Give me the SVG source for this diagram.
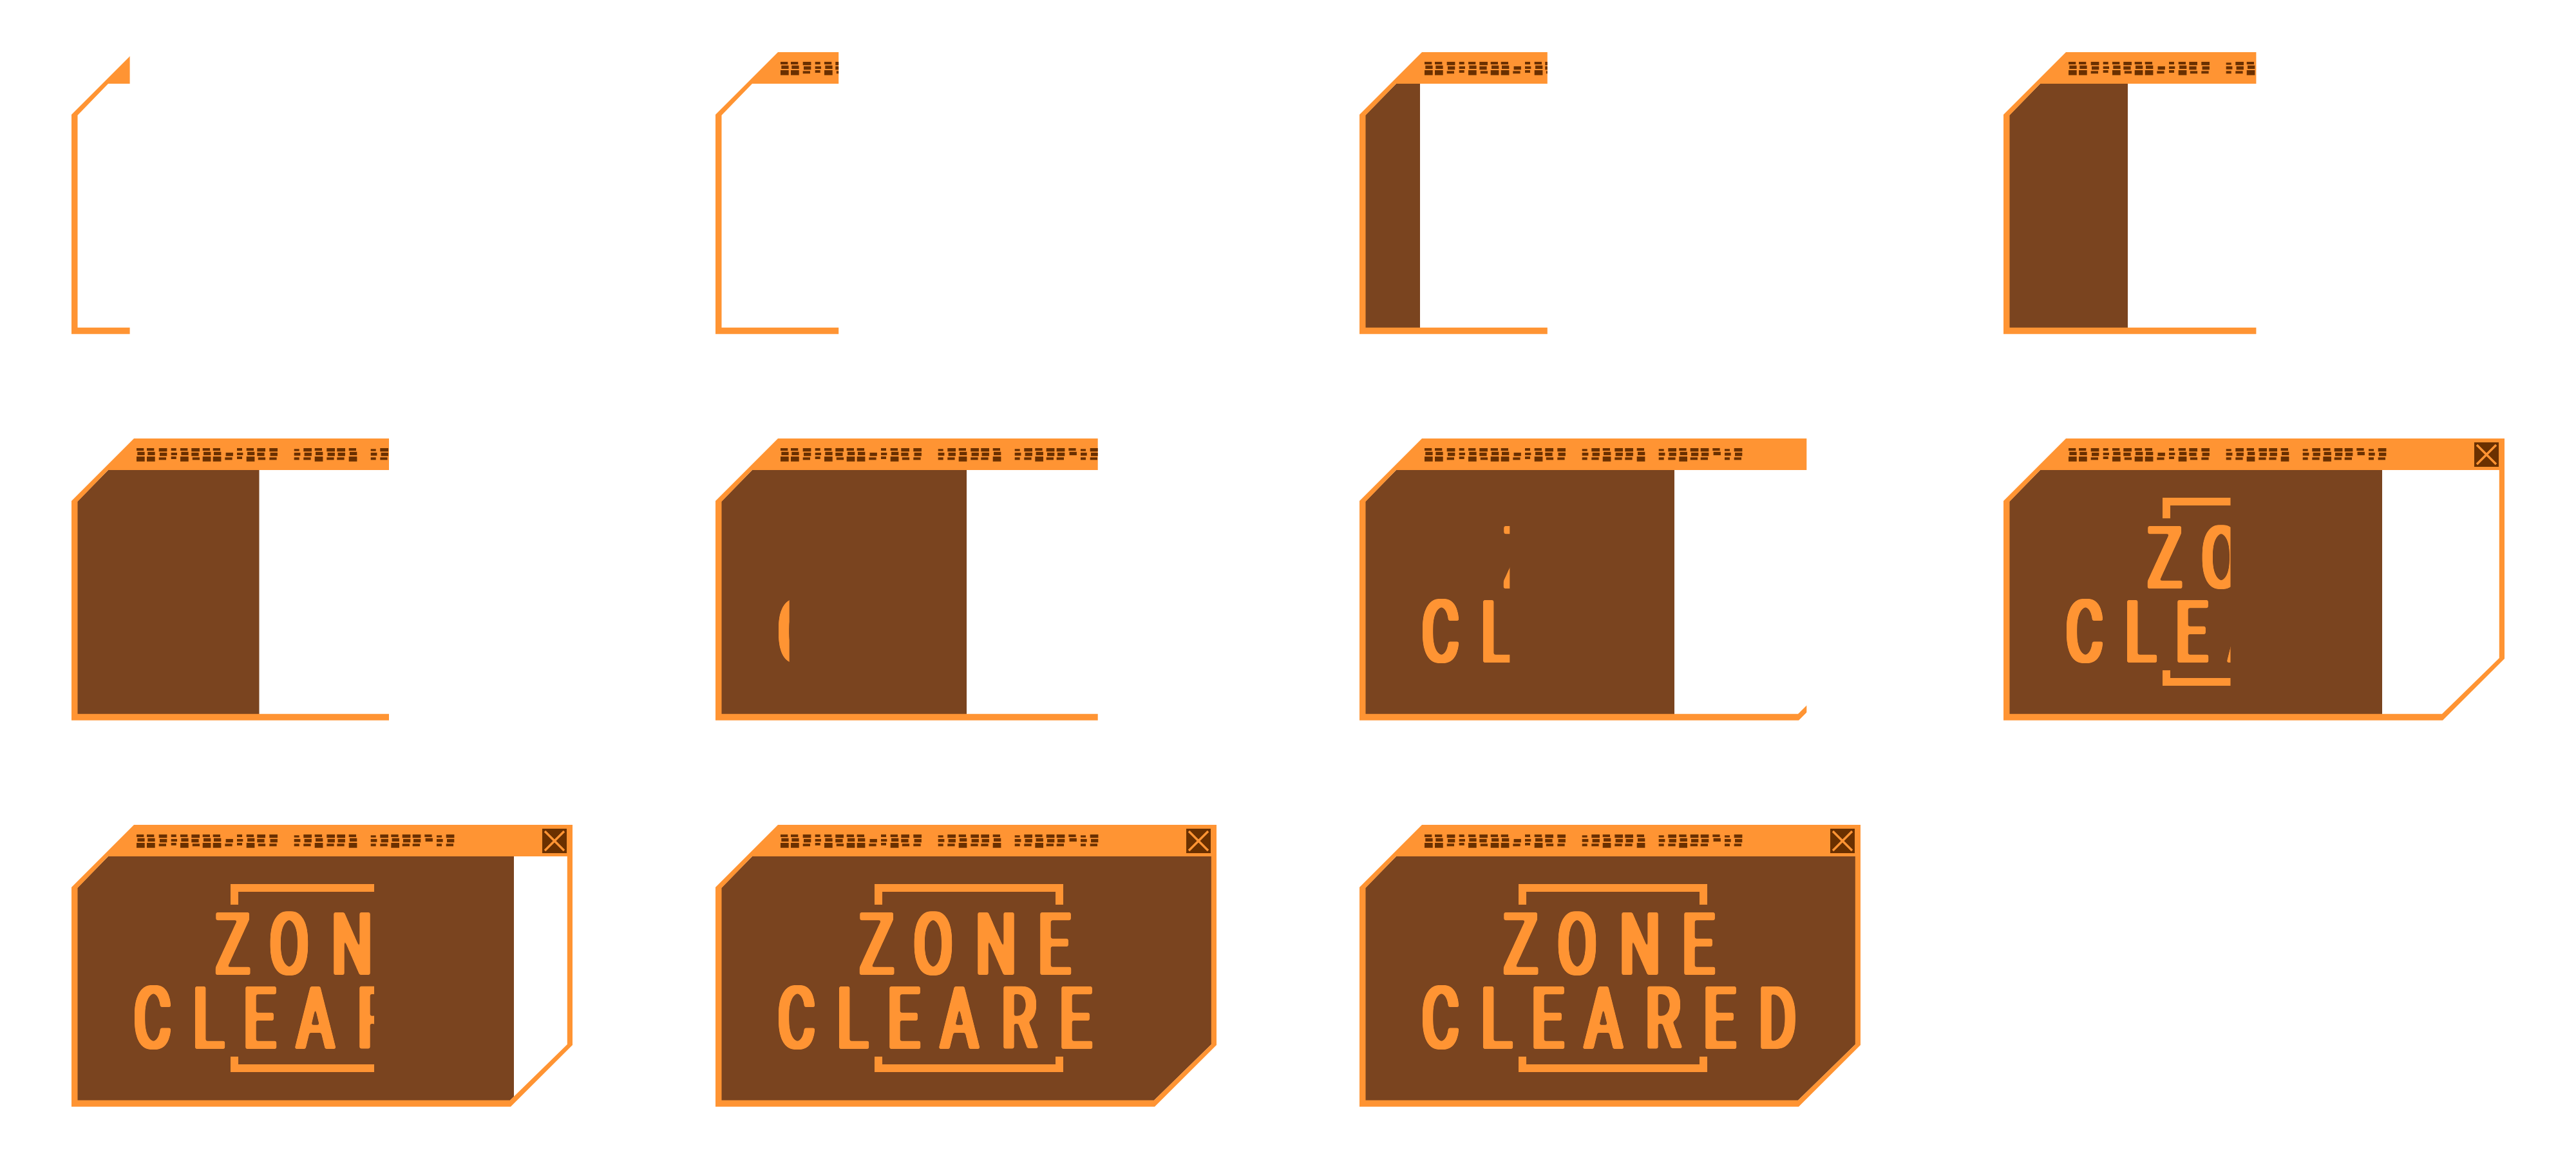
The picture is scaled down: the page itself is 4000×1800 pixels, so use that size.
<svg xmlns="http://www.w3.org/2000/svg" xmlns:xlink="http://www.w3.org/1999/xlink" width="4000" height="1800" viewBox="0 0 4000 1800">
<style>
.or{fill:#ff9433}
.pl{fill:#7a441f}
.dk{fill:#6a3000}
.xx{stroke:#ff9433;stroke-width:3.5;fill:none}
text{font-family:"Roboto","Liberation Sans",sans-serif;font-size:134px;font-weight:400;fill:#ff9433}
</style>
<defs>
<filter id="heavy" filterUnits="userSpaceOnUse" x="0" y="80" width="778" height="320" color-interpolation-filters="sRGB">
<feMorphology operator="dilate" radius="4 .5"/>
<feGaussianBlur stdDeviation="1.5"/>
<feComponentTransfer result="a"><feFuncA type="linear" slope="5" intercept="-2"/></feComponentTransfer>
<feFlood flood-color="#ff9433"/>
<feComposite in2="a" operator="in"/>
</filter>
<clipPath id="o1"><rect x="-5" y="-5" width="95.6" height="450"/></clipPath>
<clipPath id="o2"><rect x="-5" y="-5" width="196.2" height="450"/></clipPath>
<clipPath id="o3"><rect x="-5" y="-5" width="296.8" height="450"/></clipPath>
<clipPath id="o4"><rect x="-5" y="-5" width="397.4" height="450"/></clipPath>
<clipPath id="o5"><rect x="-5" y="-5" width="498" height="450"/></clipPath>
<clipPath id="o6"><rect x="-5" y="-5" width="598.7" height="450"/></clipPath>
<clipPath id="o7"><rect x="-5" y="-5" width="699.3" height="450"/></clipPath>
<clipPath id="f3"><rect x="-5" y="-5" width="99" height="450"/></clipPath>
<clipPath id="f4"><rect x="-5" y="-5" width="198" height="450"/></clipPath>
<clipPath id="f5"><rect x="-5" y="-5" width="296.5" height="450"/></clipPath>
<clipPath id="f6"><rect x="-5" y="-5" width="395" height="450"/></clipPath>
<clipPath id="f7"><rect x="-5" y="-5" width="494" height="450"/></clipPath>
<clipPath id="f8"><rect x="-5" y="-5" width="593" height="450"/></clipPath>
<clipPath id="f9"><rect x="-5" y="-5" width="692" height="450"/></clipPath>
<clipPath id="t6"><rect x="0" y="0" width="114.7" height="437"/></clipPath>
<clipPath id="t7"><rect x="0" y="0" width="233.3" height="437"/></clipPath>
<clipPath id="t8"><rect x="0" y="0" width="352.5" height="437"/></clipPath>
<clipPath id="t9"><rect x="0" y="0" width="470" height="437"/></clipPath>
<clipPath id="t10"><rect x="0" y="0" width="588.5" height="437"/></clipPath>
<g id="gA" class="dk"><rect width="11.3" height="4"/><rect x="1.3" y="5.7" width="11.3" height="5.3"/><rect y="13" width="12.7" height="7.7"/></g>
<g id="gB" class="dk"><rect width="12.7" height="5.3"/><rect x="1.3" y="7" width="11.3" height="5.3"/><rect y="14.3" width="11.3" height="4"/></g>
<g id="gC" class="dk"><rect width="12.7" height="5.3"/><rect y="7" width="11.3" height="5.3"/><rect x="1.5" y="14.3" width="11.3" height="4"/></g>
<g id="gS" class="dk"><rect width="8" height="4"/><rect y="7" width="9.3" height="4"/><rect y="13" width="8" height="4"/></g>
<g id="gR" class="dk"><rect y="1.3" width="8" height="3.3"/><rect y="7" width="9.7" height="4.7"/><rect y="14.3" width="8" height="4"/></g>
<g id="gT" class="dk"><rect x="1.3" y="7" width="11.3" height="5.3"/><rect y="14.3" width="11.3" height="4"/></g>
<g id="gU" class="dk"><rect width="11.3" height="4"/><rect x="1.3" y="5.7" width="11.3" height="5.3"/></g>
<g id="frame">
<path class="or" fill-rule="evenodd" d="M97 0H778V342L682 437.7H0V97ZM57 49L9.5 98V427.8H681L769.8 341V49Z"/>
<g transform="translate(0 15)">
<use href="#gA" x="101"/><use href="#gA" x="117"/><use href="#gB" x="135.7"/><use href="#gS" x="154.7"/><use href="#gA" x="169"/><use href="#gC" x="186.3"/><use href="#gA" x="203.7"/><use href="#gA" x="219.7"/><use href="#gT" x="238.3"/><use href="#gS" x="257"/><use href="#gA" x="271.7"/><use href="#gC" x="288.3"/><use href="#gB" x="307.3"/>
<use href="#gR" x="345.7"/><use href="#gB" x="360.3"/><use href="#gA" x="377.7"/><use href="#gB" x="396.3"/><use href="#gB" x="412.3"/><use href="#gA" x="430.7"/>
<use href="#gR" x="464.7"/><use href="#gB" x="479.3"/><use href="#gA" x="496.3"/><use href="#gB" x="513.7"/><use href="#gB" x="529.7"/><use href="#gU" x="548.3"/><use href="#gR" x="567"/><use href="#gB" x="581.7"/>
</g>
<rect class="dk" x="731" y="6" width="38" height="38"/>
<path class="xx" d="M735 10L765 40M765 10L735 40"/>
</g>
<path id="plate" class="pl" d="M57 49L9 98V428H681L770 341V49Z"/>
<path id="brackets" class="or" d="M247 92H540V124H528V104H259V124H247ZM247 360H259V372H528V360H540V384H247Z"/>
</defs>
<rect width="4000" height="1800" fill="#fff"/>
<g id="frame-1" transform="translate(111 81)"><use href="#frame" clip-path="url(#o1)"/></g>
<g id="frame-2" transform="translate(1111 81)"><use href="#frame" clip-path="url(#o2)"/></g>
<g id="frame-3" transform="translate(2111 81)"><use href="#plate" clip-path="url(#f3)"/><use href="#frame" clip-path="url(#o3)"/></g>
<g id="frame-4" transform="translate(3111 81)"><use href="#plate" clip-path="url(#f4)"/><use href="#frame" clip-path="url(#o4)"/></g>
<g id="frame-5" transform="translate(111 681)"><use href="#plate" clip-path="url(#f5)"/><use href="#frame" clip-path="url(#o5)"/></g>
<g id="frame-6" transform="translate(1111 681)"><use href="#plate" clip-path="url(#f6)"/><use href="#frame" clip-path="url(#o6)"/>
<g clip-path="url(#t6)"><g filter="url(#heavy)"><g transform="scale(.66 1)"><text x="146.5" y="347.5">C</text></g></g></g></g>
<g id="frame-7" transform="translate(2111 681)"><use href="#plate" clip-path="url(#f7)"/><use href="#frame" clip-path="url(#o7)"/>
<g clip-path="url(#t7)"><g filter="url(#heavy)"><g transform="scale(.66 1)"><text x="339.4" y="232.5">Z</text><text x="146.5 286" y="347.5">CL</text></g></g></g></g>
<g id="frame-8" transform="translate(3111 681)"><use href="#plate" clip-path="url(#f8)"/><use href="#frame"/>
<g clip-path="url(#t8)"><use href="#brackets"/><g filter="url(#heavy)"><g transform="scale(.66 1)"><text x="339.4 466" y="232.5">ZO</text><text x="146.5 286 404.5 530" y="347.5">CLEA</text></g></g></g></g>
<g id="frame-9" transform="translate(111 1281)"><use href="#plate" clip-path="url(#f9)"/><use href="#frame"/>
<g clip-path="url(#t9)"><use href="#brackets"/><g filter="url(#heavy)"><g transform="scale(.66 1)"><text x="339.4 466 612" y="232.5">ZON</text><text x="146.5 286 404.5 530 672.7" y="347.5">CLEAR</text></g></g></g></g>
<g id="frame-10" transform="translate(1111 1281)"><use href="#plate"/><use href="#frame"/>
<g clip-path="url(#t10)"><use href="#brackets"/><g filter="url(#heavy)"><g transform="scale(.66 1)"><text x="339.4 466 612 759" y="232.5">ZONE</text><text x="146.5 286 404.5 530 672.7 809" y="347.5">CLEARE</text></g></g></g></g>
<g id="frame-11" transform="translate(2111 1281)"><use href="#plate"/><use href="#frame"/>
<use href="#brackets"/><g filter="url(#heavy)"><g transform="scale(.66 1)"><text x="339.4 466 612 759" y="232.5">ZONE</text><text x="146.5 286 404.5 530 672.7 809 939.4" y="347.5">CLEARED</text></g></g></g>
</svg>
